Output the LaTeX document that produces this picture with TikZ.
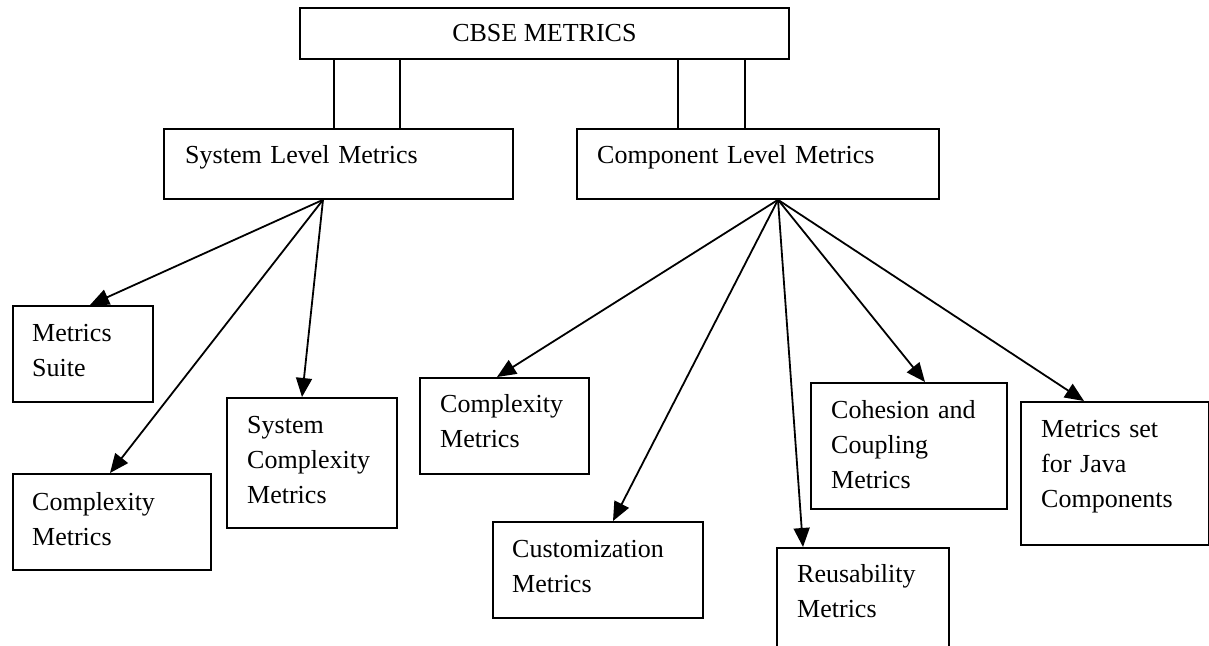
\documentclass[tikz,border=0pt]{standalone}
\usepackage{fontspec}
\setmainfont{Liberation Serif}
\usetikzlibrary{arrows.meta}

\tikzset{
  mbox/.style={draw, line width=1.8pt, rectangle, inner sep=0pt, anchor=north west},
  linkbox/.style={draw, line width=1.5pt, rectangle, inner sep=0pt, anchor=north west},
  mtext/.style={inner sep=0pt, anchor=base west, align=left, text width=200pt},
  arr/.style={line width=1.8pt, -{Triangle[length=19pt,width=16pt]}}
}

\begin{document}
\begin{tikzpicture}[x=1pt, y=-1pt, font=\fontsize{26}{35}\selectfont]
                            \useasboundingbox (0,0) rectangle (1209,645);

                            % top and the two levels
                            \node[mbox, minimum width=489pt, minimum height=51pt] (cbse) at (299,7) {\raisebox{-2pt}{CBSE METRICS}};
                            \node[linkbox, minimum width=66pt, minimum height=70pt] (syslink) at (333,58) {};
                            \node[linkbox, minimum width=67pt, minimum height=70pt] (complink) at (677,58) {};
                            \node[mbox, minimum width=349pt, minimum height=70pt] (sys) at (163,128) {};
                            \node[mtext, text width=320pt] at ([shift={(22,35)}]sys.north west) {System Level Metrics};
                            \node[mbox, minimum width=362pt, minimum height=70pt] (comp) at (576,128) {};
                            \node[mtext, text width=340pt] at ([shift={(21,35)}]comp.north west) {Component Level Metrics};

                            % system level
                            \node[mbox, minimum width=140pt, minimum height=96pt] (suite) at (12,305) {};
                            \node[mtext] at ([shift={(20,36)}]suite.north west) {Metrics\\Suite};
                            \node[mbox, minimum width=198pt, minimum height=96pt] (cplxa) at (12,473) {};
                            \node[mtext] at ([shift={(20,37)}]cplxa.north west) {Complexity\\Metrics};
                            \node[mbox, minimum width=170pt, minimum height=130pt] (syscplx) at (226,397) {};
                            \node[mtext] at ([shift={(21,36)}]syscplx.north west) {System\\Complexity\\Metrics};

                            % component level
                            \node[mbox, minimum width=169pt, minimum height=96pt] (cplxb) at (419,377) {};
                            \node[mtext] at ([shift={(21,35)}]cplxb.north west) {Complexity\\Metrics};
                            \node[mbox, minimum width=210pt, minimum height=96pt] (custom) at (492,521) {};
                            \node[mtext] at ([shift={(20,36)}]custom.north west) {Customization\\Metrics};
                            \node[mbox, minimum width=172pt, minimum height=120pt] (reuse) at (776,547) {};
                            \node[mtext] at ([shift={(21,35)}]reuse.north west) {Reusability\\Metrics};
                            \node[mbox, minimum width=196pt, minimum height=126pt] (cohes) at (810,382) {};
                            \node[mtext] at ([shift={(21,36)}]cohes.north west) {Cohesion and\\Coupling\\Metrics};
                            \node[mbox, minimum width=188pt, minimum height=143pt] (java) at (1020,401) {};
                            \node[mtext] at ([shift={(21,36)}]java.north west) {Metrics set\\for Java\\Components};

                            \draw[arr] ([xshift=160pt]sys.south west) -- ([xshift=78pt]suite.north west);
                            \draw[arr] ([xshift=160pt]sys.south west) -- ([xshift=98pt]cplxa.north west);
                            \draw[arr] ([xshift=160pt]sys.south west) -- ([xshift=76pt]syscplx.north west);

                            \draw[arr] ([xshift=202pt]comp.south west) -- ([xshift=78pt]cplxb.north west);
                            \draw[arr] ([xshift=202pt]comp.south west) -- ([xshift=121pt]custom.north west);
                            \draw[arr] ([xshift=202pt]comp.south west) -- ([xshift=27pt]reuse.north west);
                            \draw[arr] ([xshift=202pt]comp.south west) -- ([xshift=115pt]cohes.north west);
                            \draw[arr] ([xshift=202pt]comp.south west) -- ([xshift=64pt]java.north west);

                        \end{tikzpicture}
\end{document}
